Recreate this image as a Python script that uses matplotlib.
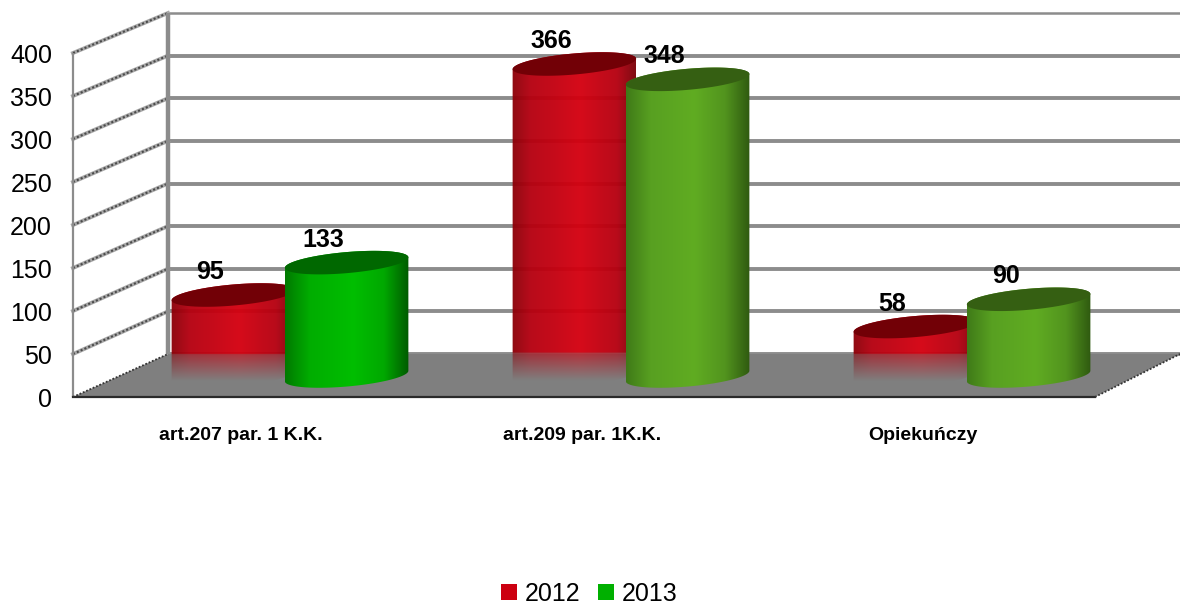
import numpy as np
import matplotlib
matplotlib.use('Agg')
import matplotlib.pyplot as plt
from matplotlib.colors import LinearSegmentedColormap
from matplotlib.patches import Patch, Polygon

categories = ['art.207 par. 1 K.K.', 'art.209 par. 1K.K.', 'Opiekuńczy']
years = ['2012', '2013']
values_2012 = [95, 366, 58]
values_2013 = [133, 348, 90]
yticks = [0, 50, 100, 150, 200, 250, 300, 350, 400]

plt.rcParams['font.family'] = ['Liberation Sans', 'DejaVu Sans']

# scales of the 3d box, pixels per data unit
PX_X = 341.0
PX_Y = 0.8525
W, H = 1180, 604
X0, Y0 = 290, 354      # pixel of category 0 / value 0 on the back wall

# depth of the box in data units
DEPTH_X = -95 / PX_X
DEPTH_V = -43 / PX_Y
FRONT_SCALE = 1.0088
WALL_X = (168 - X0) / PX_X
RIGHT_X = (W - X0) / PX_X

BAR_OFFSET = 0.166
BAR_A = 62 / PX_X
BAR_B = 10.5
TILT = np.deg2rad(5.0)
BASE_V = -22 / PX_Y

red_cmap = LinearSegmentedColormap.from_list('r', [(0, '#8a0008'), (0.15, '#b50010'), (0.55, '#d4000f'), (0.85, '#b50010'), (1, '#7a0008')])
bright_cmap = LinearSegmentedColormap.from_list('g1', [(0, '#007a00'), (0.2, '#00ad00'), (0.55, '#00be00'), (0.8, '#00a800'), (1, '#005a00')])
olive_cmap = LinearSegmentedColormap.from_list('g2', [(0, '#3f7a18'), (0.2, '#58a021'), (0.55, '#60ac22'), (0.8, '#52941e'), (1, '#2f5a10')])
GRID = '#8c8c8c'

fig = plt.figure(figsize=(W / 100, H / 100), dpi=100)
ax = fig.add_axes([0, 0, 1, 1])
ax.axis('off')
xlim = (-X0 / PX_X, (W - X0) / PX_X)
ylim = ((Y0 - H) / PX_Y, Y0 / PX_Y)


def front(v):
    return v * FRONT_SCALE + DEPTH_V


def ellipse(cx, cv, t):
    # tilted ellipse, worked out in pixels then put back to data units
    px = BAR_A * PX_X * np.cos(t) * np.cos(TILT) - BAR_B * np.sin(t) * np.sin(TILT)
    py = BAR_A * PX_X * np.cos(t) * np.sin(TILT) + BAR_B * np.sin(t) * np.cos(TILT)
    return cx + px / PX_X, cv + py / PX_Y


def cylinder(cx, value, cmap, top_color, z, fade=False):
    cv = BASE_V + value
    tlow = np.linspace(np.pi, 2 * np.pi, 80)
    tup = np.linspace(0, np.pi, 80)
    xb, vb = ellipse(cx, BASE_V, tlow)
    xt, vt = ellipse(cx, cv, tup)
    body = Polygon(np.column_stack([np.r_[xb, xt], np.r_[vb, vt]]), closed=True,
                   facecolor='none', edgecolor='none', zorder=z)
    ax.add_patch(body)

    left, right = cx - BAR_A, cx + BAR_A
    vmin, vmax = BASE_V - 2 * BAR_B / PX_Y, cv + 2 * BAR_B / PX_Y
    grad = np.linspace(0, 1, 256)
    rows = 200
    rgba = np.tile(cmap(grad), (rows, 1, 1))
    if fade:
        # lower part sinks in the floor, the upper one lets gridlines through
        vs = np.linspace(vmax, vmin, rows)
        alpha = np.full(rows, 0.96)
        low = vs < 0
        alpha[low] = np.clip(0.6 * (1 + vs[low] / 32.0), 0, 1)
        rgba[:, :, 3] = alpha[:, None]
    im = ax.imshow(rgba, extent=(left, right, vmin, vmax), aspect='auto',
                   interpolation='bilinear', zorder=z)
    im.set_clip_path(body)

    t = np.linspace(0, 2 * np.pi, 120)
    xe, ve = ellipse(cx, cv, t)
    ax.fill(xe, ve, color=top_color, zorder=z + 0.1, lw=0)


# back wall
for v in yticks:
    ax.plot([WALL_X, RIGHT_X], [v, v], color=GRID, lw=2.8 if v < 400 else 1.8,
            solid_capstyle='butt', zorder=1)
    if v > 0:
        ax.plot([WALL_X + DEPTH_X, WALL_X], [front(v), v], color='#a8a8a8', lw=2.8, zorder=1)
        ax.plot([WALL_X + DEPTH_X, WALL_X], [front(v), v], color='#4a4a4a', lw=1.5,
                ls=(0, (1, 1)), zorder=1.1)
ax.plot([WALL_X, WALL_X], [0, 400], color=GRID, lw=3.2, solid_capstyle='butt', zorder=1.2)
ax.plot([WALL_X + DEPTH_X] * 2, [front(0), front(400)], color=GRID, lw=1.6,
        solid_capstyle='butt', zorder=1.2)

# floor
floor_front_right = (1095 - X0) / PX_X
floor = Polygon([(WALL_X, 0), (RIGHT_X, 0), (floor_front_right, front(0)),
                 (WALL_X + DEPTH_X, front(0))], closed=True, facecolor='#7f7f7f',
                edgecolor='none', zorder=2)
ax.add_patch(floor)
ax.plot([WALL_X + DEPTH_X, floor_front_right], [front(0), front(0)], color='#2a2a2a', lw=1.6, zorder=2.1)
ax.plot([WALL_X + DEPTH_X, WALL_X], [front(0), 0], color='#333333', lw=1.3, ls=(0, (1, 1)), zorder=2.1)
ax.plot([floor_front_right, RIGHT_X], [front(0), 0], color='#333333', lw=1.3, ls=(0, (1, 1)), zorder=2.1)

# cylinders
for i, (a, b) in enumerate(zip(values_2012, values_2013)):
    cylinder(i - BAR_OFFSET, a, red_cmap, '#720006', 3, fade=True)
    if i == 0:
        cylinder(i + BAR_OFFSET, b, bright_cmap, '#006800', 4)
    else:
        cylinder(i + BAR_OFFSET, b, olive_cmap, '#355f12', 4)
    for cx, val in ((i - BAR_OFFSET, a), (i + BAR_OFFSET, b)):
        ax.annotate(str(val), (cx, BASE_V + val), xytext=(-23 * 0.72, 23 * 0.72),
                    textcoords='offset points', ha='center', va='center',
                    fontsize=18, fontweight='bold', color='black', zorder=6)
    ax.annotate(categories[i], (i, front(0)), xytext=(-49 * 0.72, -38 * 0.72),
                textcoords='offset points', ha='center', va='center',
                fontsize=14, fontweight='bold', color='black', zorder=6)

# y tick labels
for v in yticks:
    ax.annotate(str(v), (WALL_X + DEPTH_X, front(v)), xytext=(-21 * 0.72, -3 * 0.72),
                textcoords='offset points', ha='right', va='center',
                fontsize=18, color='black', zorder=6)

ax.set_xlim(xlim)
ax.set_ylim(ylim)

handles = [Patch(facecolor='#cc0010', label=years[0]), Patch(facecolor='#00b000', label=years[1])]
fig.legend(handles=handles, loc='center', bbox_to_anchor=(589.5 / W, 1 - 594 / H), ncol=2,
           frameon=False, fontsize=18, handlelength=0.64, handleheight=0.64,
           handletextpad=0.3, columnspacing=0.72, borderpad=0, borderaxespad=0)

fig.savefig('out.png', dpi=100)
